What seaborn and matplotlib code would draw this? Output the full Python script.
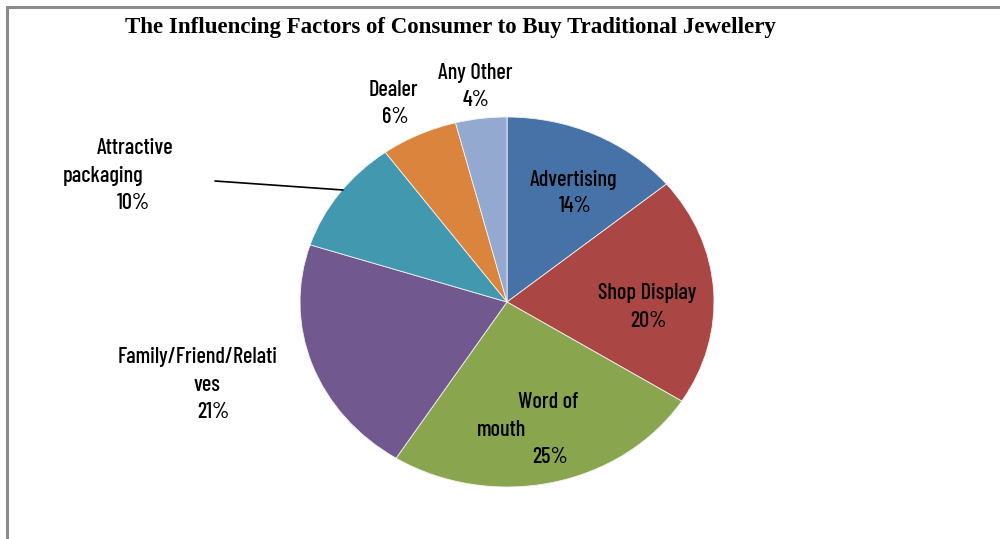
import matplotlib
matplotlib.use("Agg")
import matplotlib.pyplot as plt
from matplotlib import font_manager
from matplotlib.patches import Rectangle
from matplotlib.lines import Line2D
import seaborn as sns

# Survey shares, clockwise from 12 o'clock
factors = ["Advertising", "Shop Display", "Word of mouth", "Family/Friend/Relatives",
           "Attractive packaging", "Dealer", "Any Other"]
shares = [14, 20, 25, 21, 10, 6, 4]
slice_colors = ["#4672A8", "#AA4644", "#89A54E", "#71588F", "#4198AF", "#DB843D", "#93A9CF"]
title = "The Influencing Factors of Consumer to Buy Traditional Jewellery"

sns.set_style("white")
names = {f.name for f in font_manager.fontManager.ttflist}
label_family = next((n for n in ["Barlow Condensed", "Archivo Narrow", "Asap Condensed"]
                     if n in names), "DejaVu Sans")
title_family = "Liberation Serif"

W, H = 1000, 539
fig = plt.figure(figsize=(W / 100, H / 100), dpi=100)
fig.patch.set_facecolor("white")

def fx(px):
    return px / W

def fy(py):
    return 1 - py / H

# Chart frame (runs off the right and bottom edges)
fig.add_artist(Rectangle((fx(7), fy(560)), 1.2, fy(7) - fy(560), transform=fig.transFigure,
                         fill=False, edgecolor="#8c8c8c", linewidth=2.2))

# Elliptical pie: axes box spans the pie's extent
left, right, top, bottom = 300, 714, 117, 487
ax = fig.add_axes([fx(left), fy(bottom), fx(right - left), (bottom - top) / H])
wedges, _ = ax.pie(shares, colors=slice_colors, startangle=90, counterclock=False,
                   wedgeprops=dict(edgecolor="#f2f2f2", linewidth=0.6))
ax.set_aspect("auto")
ax.set_xlim(-1, 1)
ax.set_ylim(-1, 1)
ax.axis("off")

fig.text(fx(450), fy(27), title, ha="center", va="center", family=title_family,
         fontweight="bold", fontsize=16.5, color="black")

lab = dict(family=label_family, fontsize=16, fontweight="medium",
           color="black", ha="center", va="center")
pct = [f"{v}%" for v in shares]

def put(px, py, s):
    fig.text(fx(px), fy(py), s, **lab)

put(574, 180, "Advertising");  put(575, 206, pct[0])
put(647, 293, "Shop Display"); put(648, 321, pct[1])
put(548, 402, "Word of");      put(502, 430, "mouth"); put(550, 457, pct[2])
put(198, 357, "Family/Friend/Relati"); put(207, 385, "ves"); put(213, 412, pct[3])
put(135, 148, "Attractive");   put(103, 176, "packaging"); put(133, 203, pct[4])
put(393, 90, "Dealer");        put(395, 117, pct[5])
put(475, 73, "Any Other");     put(476, 100, pct[6])

# Leader line for the packaging label
fig.add_artist(Line2D([fx(215), fx(343)], [fy(181), fy(190)], transform=fig.transFigure,
                      color="black", linewidth=1.2))

fig.savefig("out.png", dpi=100, facecolor="white")
